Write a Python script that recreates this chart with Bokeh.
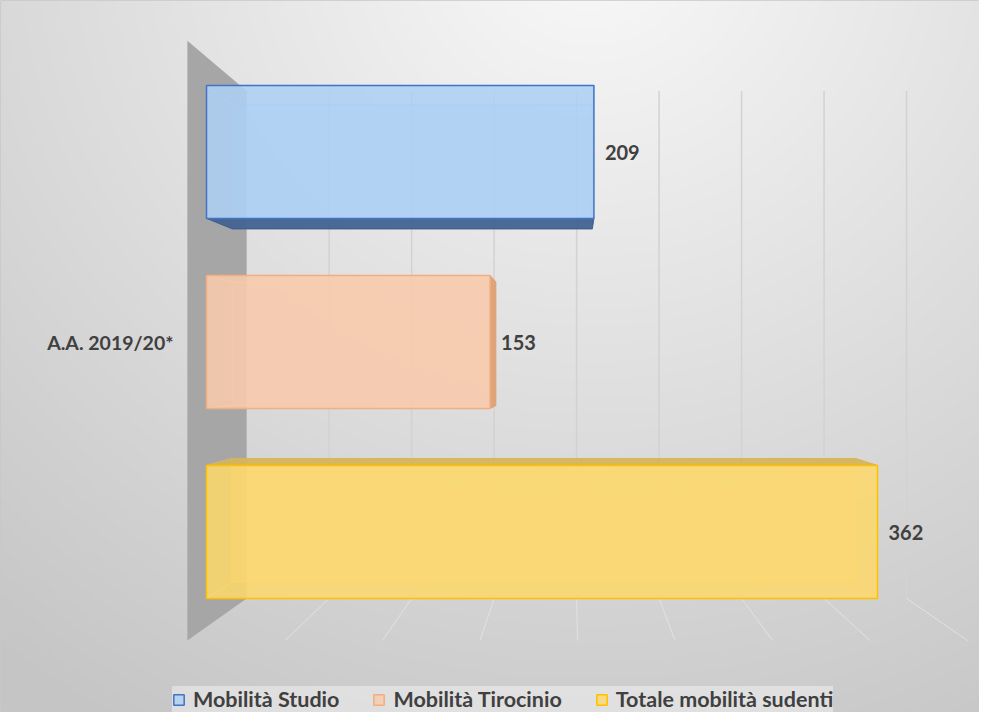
import numpy as np
from bokeh.plotting import figure
from bokeh.models import ColumnDataSource, Legend, LegendItem, Range1d
from bokeh.core.properties import value
from bokeh.embed import file_html
from bokeh.resources import INLINE

# ---------------- data ----------------
categories = ["A.A. 2019/20*"]
series = ["Mobilità Studio", "Mobilità Tirocinio", "Totale mobilità sudenti"]
values = [209, 153, 362]
axis_max = 400
grid_step = 50

# ---------------- styles ----------------
front_colors = ["#acd0f4", "#f8cbad", "#fcd86c"]
edge_colors = ["#4472c4", "#f2ae80", "#ffc000"]
shade_colors = ["#3e5d8c", "#dd9f72", "#d4b45a"]
text_color = "#404040"
FONT = "Lato"

W, H = 979, 712
# ranges (value units horizontally, category rows vertically)
X0, X1 = -111.14, 417.02
Y0, Y1 = -0.950, 2.797

# perspective (vanishing point and depth scales)
VP = (196.9, 0.866)
S_FRONT, S_WALL, S_BARBACK = 1.0525, 0.89, 0.93
HALF = 0.35

n = len(series)
rows = list(range(n))[::-1]          # first series on top
r_lo, r_hi = -0.5, n - 0.5


def proj(v, r, s):
    return VP[0] + (v - VP[0]) * s, VP[1] + (r - VP[1]) * s


def poly(pts):
    return [q[0] for q in pts], [q[1] for q in pts]


p = figure(width=W, height=H, x_range=Range1d(X0, X1), y_range=Range1d(Y0, Y1),
           output_backend="svg", toolbar_location=None, min_border=0,
           x_axis_location=None, y_axis_location=None)
p.grid.visible = False
p.outline_line_color = "#c8c8c8"
p.background_fill_color = "#e4e4e4"
p.border_fill_color = "#e4e4e4"

# ---------------- background gradient ----------------
ny, nx = 356, 490
jj = (np.arange(nx) + 0.5) * W / nx
ii = H - (np.arange(ny) + 0.5) * H / ny
PX, PY = np.meshgrid(jj, ii)
d = np.sqrt((PX - 590) ** 2 + ((PY + 60) * 1.05) ** 2)
t = np.clip(d / 960.0, 0, 1)
g = (249 - t * 52).astype(np.uint8)
img = np.empty((ny, nx), dtype=np.uint32)
view = img.view(dtype=np.uint8).reshape((ny, nx, 4))
view[..., 0] = g
view[..., 1] = g
view[..., 2] = g
view[..., 3] = 255
p.image_rgba(image=[img], x=X0, y=Y0, dw=X1 - X0, dh=Y1 - Y0)

# ---------------- walls / gridlines ----------------
wx, wy = poly([proj(0, r_hi, S_FRONT), proj(0, r_hi, S_WALL),
               proj(0, r_lo, S_WALL), proj(0, r_lo, S_FRONT)])
p.patch(wx, wy, fill_color="#a6a6a6", line_color=None)

gxs, gys, fxs, fys = [], [], [], []
for gv in range(grid_step, axis_max + 1, grid_step):
    a = proj(gv, r_lo, S_WALL)
    b = proj(gv, r_hi, S_WALL)
    c = proj(gv, r_lo, S_FRONT)
    gxs.append([a[0], b[0]]); gys.append([a[1], b[1]])
    fxs.append([a[0], c[0]]); fys.append([a[1], c[1]])
p.multi_line(gxs, gys, line_color="#d2d2d2", line_width=1.5)
p.multi_line(fxs, fys, line_color="#e6e6e6", line_width=1.0, line_alpha=0.8)

# ---------------- 3D bars ----------------
back_x, back_y, hid_x, hid_y, hid_c = [], [], [], [], []
vis_x, vis_y, vis_c = [], [], []
for i in range(n):
    v, r = values[i], rows[i]
    lo, hi = r - HALF, r + HALF
    bx, by = poly([proj(0, lo, S_BARBACK), proj(v, lo, S_BARBACK),
                   proj(v, hi, S_BARBACK), proj(0, hi, S_BARBACK)])
    back_x.append(bx); back_y.append(by)
    faces = {
        "top": ([proj(0, hi, 1), proj(v, hi, 1), proj(v, hi, S_BARBACK), proj(0, hi, S_BARBACK)], hi < VP[1]),
        "bottom": ([proj(0, lo, 1), proj(v, lo, 1), proj(v, lo, S_BARBACK), proj(0, lo, S_BARBACK)], lo > VP[1]),
        "right": ([proj(v, lo, 1), proj(v, hi, 1), proj(v, hi, S_BARBACK), proj(v, lo, S_BARBACK)], v < VP[0]),
        "left": ([proj(0, lo, 1), proj(0, hi, 1), proj(0, hi, S_BARBACK), proj(0, lo, S_BARBACK)], 0 > VP[0]),
    }
    for name, (pts, visible) in faces.items():
        fx, fy = poly(pts)
        if visible:
            vis_x.append(fx); vis_y.append(fy); vis_c.append(shade_colors[i])
        else:
            hid_x.append(fx); hid_y.append(fy); hid_c.append(front_colors[i])

p.patches(back_x, back_y, fill_color=front_colors, fill_alpha=0.55,
          line_color=edge_colors, line_alpha=0.35, line_width=1)
p.patches(hid_x, hid_y, fill_color=hid_c, fill_alpha=0.35,
          line_color=hid_c, line_alpha=0.6, line_width=1)
p.patches(vis_x, vis_y, fill_color=vis_c, fill_alpha=0.9,
          line_color=vis_c, line_alpha=0.9, line_width=1)

src = ColumnDataSource(dict(
    left=[0] * n, right=values,
    bottom=[r - HALF for r in rows], top=[r + HALF for r in rows],
    fill=front_colors, edge=edge_colors, name=series,
    lbl=[str(v) for v in values], row=rows))
front = p.quad(left="left", right="right", bottom="bottom", top="top", source=src,
               fill_color="fill", fill_alpha=0.8, line_color="edge", line_width=1.5)

# ---------------- labels ----------------
p.text(x="right", y="row", text="lbl", source=src, x_offset=11, y_offset=1,
       text_align="left", text_baseline="middle",
       text_font=value(FONT), text_font_style="bold", text_font_size="20px",
       text_color=text_color)

cat_src = ColumnDataSource(dict(x=[0], y=[float(np.mean(rows))], t=categories))
p.text(x="x", y="y", text="t", source=cat_src, x_offset=-33, y_offset=1,
       text_align="right", text_baseline="middle",
       text_font=value(FONT), text_font_style="bold", text_font_size="19.5px",
       text_color=text_color)

# ---------------- legend ----------------
legend = Legend(items=[LegendItem(label=series[i], renderers=[front], index=i) for i in range(n)],
                location=(172, 0), orientation="horizontal",
                label_text_font=FONT, label_text_font_size="21.5px",
                label_text_font_style="bold",
                label_text_color=text_color,
                glyph_width=13, glyph_height=13, label_standoff=8, spacing=33,
                padding=6, margin=0, label_height=24,
                background_fill_color="#f0f0f0", background_fill_alpha=0.55,
                border_line_color=None)
p.add_layout(legend)

open("out.html", "w").write(file_html(p, INLINE))
